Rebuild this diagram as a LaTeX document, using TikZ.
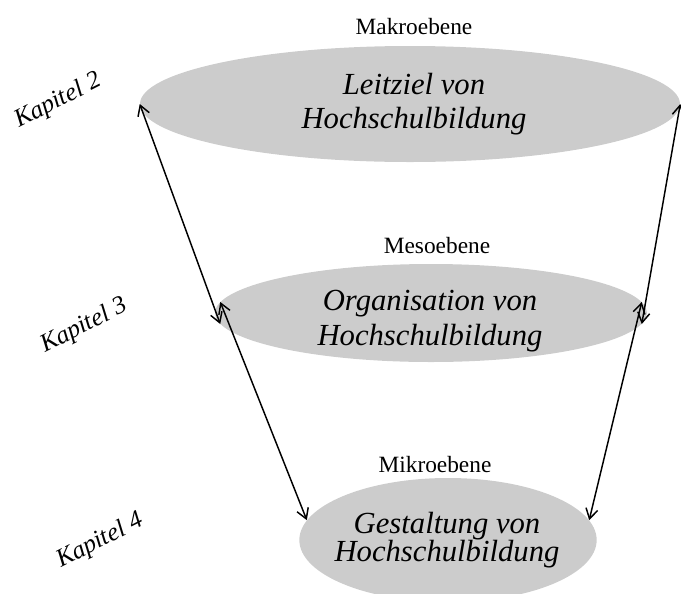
\documentclass[tikz,border=0pt]{standalone}
\usepackage{fontspec}
\setmainfont{Liberation Serif}
\usetikzlibrary{shapes.geometric,arrows.meta}

\begin{document}
\begin{tikzpicture}[x=0.75pt, y=-0.75pt,
		ebene/.style={ellipse, fill=black!20, inner sep=0pt},
		inhalt/.style={align=center, font=\fontsize{23}{26}\selectfont\itshape},
		stufe/.style={font=\fontsize{17.5}{20}\selectfont},
		kapitel/.style={rotate=27, font=\fontsize{19}{21}\selectfont\itshape},
		pfeil/.style={{Straight Barb[length=7.5pt,width=9pt]}-{Straight Barb[length=7.5pt,width=9pt]}, line width=1.1pt}]
			\useasboundingbox (0, 0) rectangle (681, 593);
			\clip (0, 0) rectangle (681, 593);

			\draw (410, 104) 	node[ebene, minimum width=405pt, minimum height=87pt] 		(makro) 	{};
			\draw (431, 313) 	node[ebene, minimum width=324pt, minimum height=73.5pt] 	(meso) 		{};
			\draw (448, 540) 	node[ebene, minimum width=223pt, minimum height=93pt] 		(mikro) 	{};

			\draw (414, 104) 	node[inhalt] 	(makro_text) 	{Leitziel von\\Hochschulbildung};
			\draw (430, 321) 	node[inhalt] 	(meso_text) 	{Organisation von\\Hochschulbildung};
			\draw (447, 540) 	node[inhalt, font=\fontsize{23}{21}\selectfont\itshape] 	(mikro_text) 	{Gestaltung von\\Hochschulbildung};

			\draw (414, 27) 	node[stufe] 	(makro_label) 	{Makroebene};
			\draw (437, 246) 	node[stufe] 	(meso_label) 	{Mesoebene};
			\draw (435, 465) 	node[stufe] 	(mikro_label) 	{Mikroebene};

			\draw (58, 101) 	node[kapitel] 	(kap2) 		{Kapitel 2};
			\draw (84, 326) 	node[kapitel] 	(kap3) 		{Kapitel 3};
			\draw (100, 541) 	node[kapitel] 	(kap4) 		{Kapitel 4};

			\draw[pfeil] (makro.west) -- (meso.183);
			\draw[pfeil] (meso.177) -- (mikro.172);
			\draw[pfeil] (makro.east) -- (meso.357);
			\draw[pfeil] (meso.3) -- (mikro.8);
		\end{tikzpicture}
\end{document}
